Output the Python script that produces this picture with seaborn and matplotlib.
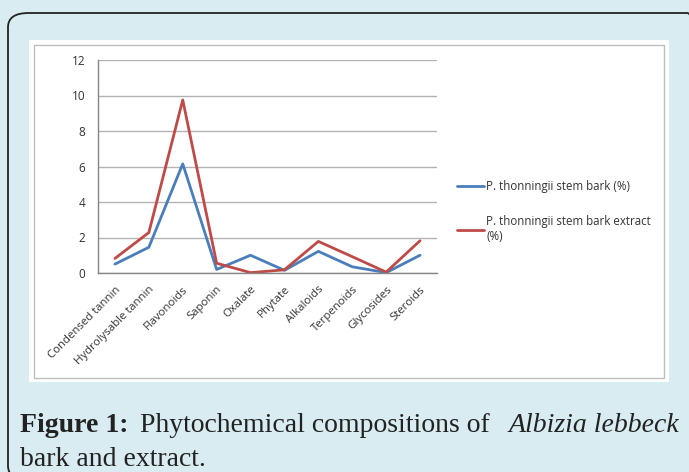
import pandas as pd
import matplotlib.pyplot as plt
import seaborn as sns
from matplotlib.patches import FancyBboxPatch, Rectangle
from matplotlib.lines import Line2D

# Data
compounds = ["Condensed tannin", "Hydrolysable tannin", "Flavonoids", "Saponin", "Oxalate",
             "Phytate", "Alkaloids", "Terpenoids", "Glycosides", "Steroids"]
bark = [0.50, 1.45, 6.15, 0.20, 1.00, 0.15, 1.22, 0.35, 0.02, 1.00]
extract = [0.82, 2.28, 9.75, 0.55, 0.02, 0.18, 1.78, 0.92, 0.05, 1.82]
series_names = ["P. thonningii stem bark (%)", "P. thonningii stem bark extract\n(%)"]

df = pd.DataFrame({
    "pos": list(range(len(compounds))) * 2,
    "value": bark + extract,
    "series": [series_names[0]] * len(compounds) + [series_names[1]] * len(compounds),
})

sns.set_style("white")
plt.rcParams['font.family'] = ['Open Sans', 'DejaVu Sans']

W, H = 689, 472
fig = plt.figure(figsize=(W / 100, H / 100), dpi=100, facecolor="#d8ecf1")

def px(x, y):
    return x / W, 1 - y / H

# outer rounded frame
frame = FancyBboxPatch(px(8, 480), 700 / W, 467 / H, boxstyle="round,pad=0,rounding_size=0.03",
                       transform=fig.transFigure, facecolor="none", edgecolor="#222222", lw=1.3,
                       zorder=-2)
fig.patches.append(frame)
# white chart area and its grey border
fig.patches.append(Rectangle(px(29, 382), 640 / W, 342 / H, transform=fig.transFigure,
                             facecolor="white", edgecolor="none", zorder=-2))
fig.patches.append(Rectangle(px(34, 378), 630 / W, 333 / H, transform=fig.transFigure,
                             facecolor="none", edgecolor="#bdbdbd", lw=1.0, zorder=-1))

ax = fig.add_axes([98 / W, 1 - 273 / H, 339 / W, 213 / H])
ax.set_zorder(2)
palette = {series_names[0]: "#4a7ebb", series_names[1]: "#be4b48"}
sns.lineplot(data=df, x="pos", y="value", hue="series", palette=palette, ax=ax,
             linewidth=2, legend=False)

ax.set_xlim(-0.5, len(compounds) - 0.5)
ax.set_ylim(0, 12)
ax.set_yticks(range(0, 13, 2))
ax.yaxis.grid(True, color="#b3b3b3", lw=1)
ax.set_axisbelow(True)
ax.set_xticks(range(len(compounds)))
ax.set_xticklabels(compounds, rotation=45, ha="right", rotation_mode="anchor", fontsize=8.2, color="#333333")
ax.set_xticks([i - 0.5 for i in range(len(compounds) + 1)], minor=True)
ax.tick_params(axis="x", which="major", length=0, pad=8)
ax.tick_params(axis="x", which="minor", length=5, color="#868686", width=1, direction="out")
ax.tick_params(axis="y", length=5, color="#868686", width=1, direction="out", labelsize=8.5,
               labelcolor="#333333", pad=4)
ax.set_xlabel("")
ax.set_ylabel("")
for side in ["top", "right"]:
    ax.spines[side].set_visible(False)
for side in ["left", "bottom"]:
    ax.spines[side].set_color("#868686")
    ax.spines[side].set_linewidth(1)
ax.set_facecolor("none")

handles = [Line2D([], [], color=palette[s], lw=2) for s in series_names]
fig.legend(handles, series_names, loc="upper left", bbox_to_anchor=px(447, 170), frameon=False,
           fontsize=8.3, handlelength=2.3, handletextpad=0.2, labelspacing=1.9, labelcolor="#333333")

# caption
cap = dict(fontsize=20, family="Liberation Serif", color="#222222", va="baseline")
fig.text(*px(20, 432), "Figure 1:", weight="bold", **cap)
fig.text(*px(140, 432), "Phytochemical compositions of", **cap)
fig.text(*px(509, 432), "Albizia lebbeck", style="italic", **cap)
fig.text(*px(20, 466), "bark and extract.", **cap)

fig.savefig("out.png", dpi=100, facecolor=fig.get_facecolor())
